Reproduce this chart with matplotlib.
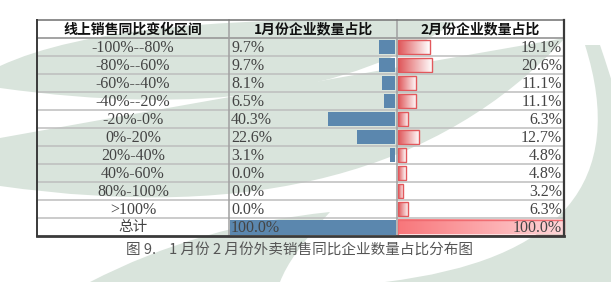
import numpy as np
import matplotlib.pyplot as plt
from matplotlib.path import Path
from matplotlib.patches import PathPatch, Rectangle
from matplotlib.colors import LinearSegmentedColormap

plt.rcParams['font.family'] = ['Noto Sans CJK SC', 'DejaVu Sans']

# ---- data ----
headers = ['线上销售同比变化区间', '1月份企业数量占比', '2月份企业数量占比']
ranges = ['-100%--80%', '-80%--60%', '-60%--40%', '-40%--20%', '-20%-0%',
          '0%-20%', '20%-40%', '40%-60%', '80%-100%', '>100%', '总计']
jan = [9.7, 9.7, 8.1, 6.5, 40.3, 22.6, 3.1, 0.0, 0.0, 0.0, 100.0]
feb = [19.1, 20.6, 11.1, 11.1, 6.3, 12.7, 4.8, 4.8, 3.2, 6.3, 100.0]
caption = '图 9.    1 月份 2 月份外卖销售同比企业数量占比分布图'

W, H = 611, 282
fig = plt.figure(figsize=(W / 100, H / 100), dpi=100)
ax = fig.add_axes([0, 0, 1, 1])
ax.set_xlim(0, W)
ax.set_ylim(H, 0)
ax.axis('off')

# ---- watermark swooshes in the background ----
wm = '#d9e4dc'
C3 = Path.CURVE3
shapes = [
    # upper left leaf
    [((0, 66), Path.MOVETO), ((120, 10), C3), ((455, 22), C3),
     ((300, 130), C3), ((0, 88), C3), ((0, 66), Path.CLOSEPOLY)],
    # middle leaf
    [((0, 138), Path.MOVETO), ((210, 100), C3), ((565, 38), C3),
     ((380, 240), C3), ((0, 186), C3), ((0, 138), Path.CLOSEPOLY)],
    # big right arc
    [((385, 282), Path.MOVETO), ((650, 250), C3), ((585, 45), C3),
     ((600, 45), Path.LINETO), ((680, 280), C3), ((611, 282), C3),
     ((385, 282), Path.CLOSEPOLY)],
    # bottom left band
    [((90, 282), Path.MOVETO), ((200, 225), C3), ((330, 212), C3),
     ((290, 255), C3), ((280, 282), C3), ((90, 282), Path.CLOSEPOLY)],
]
for s in shapes:
    verts, codes = zip(*s)
    ax.add_patch(PathPatch(Path(verts, codes), facecolor=wm, edgecolor='none', zorder=0))

# ---- table geometry ----
x0, x1, x2, x3 = 37, 229, 397, 564
top, head_h, row_h = 20, 18, 18
full = 166

def grad_bar(xa, xb, ya, yb, c_left, c_right, edge=None):
    cm = LinearSegmentedColormap.from_list('g', [c_left, c_right])
    g = np.linspace(0, 1, 64).reshape(1, -1)
    ax.imshow(g, extent=[xa, xb, yb, ya], aspect='auto', cmap=cm, zorder=2,
              interpolation='bilinear')
    if edge:
        ax.add_patch(Rectangle((xa, ya), xb - xa, yb - ya, fill=False,
                               edgecolor=edge, lw=1.0, zorder=3))

# header
hy = top + head_h / 2
for xc, txt in zip([(x0 + x1) / 2, (x1 + x2) / 2, (x2 + x3) / 2], headers):
    ax.text(xc, hy + 0.5, txt, ha='center', va='center', fontsize=10,
            fontweight='bold', color='#111111', zorder=5)

serif = ['Liberation Serif', 'DejaVu Serif']
for i, (lab, a, b) in enumerate(zip(ranges, jan, feb)):
    ya = top + head_h + i * row_h
    yc = ya + row_h / 2
    last = i == len(ranges) - 1
    # blue bar, right aligned
    if a > 0:
        w = a / 100 * full
        if last:
            ax.add_patch(Rectangle((x2 - 1 - w, ya + 1.5), w, row_h - 3,
                                   facecolor='#5b87ae', edgecolor='none', zorder=2))
        else:
            ax.add_patch(Rectangle((x2 - 2 - w, ya + 2), w, row_h - 4,
                                   facecolor='#5b87ae', edgecolor='none', zorder=2))
    # red gradient bar
    w = b / 100 * full
    if last:
        grad_bar(x2 + 1, x2 + 1 + w, ya + 1.5, ya + row_h - 1.5, '#f8777b', '#ffd6d8',
                 edge='#f06b70')
    else:
        grad_bar(x2 + 1, x2 + 1 + w, ya + 2, ya + row_h - 2, '#df5558', '#ffffff',
                 edge='#e2585c')
    if last:
        ax.text((x0 + x1) / 2, yc + 0.5, lab, ha='center', va='center',
                fontsize=10.5, color='#444444', zorder=5)
    else:
        ax.text((x0 + x1) / 2, yc + 0.5, lab, ha='center', va='center',
                fontsize=11.5, color='#444444', family=serif, zorder=5)
    ax.text(x1 + 2, yc + 0.5, f'{a:.1f}%', ha='left', va='center',
            fontsize=11.5, color='#444444', family=serif, zorder=5)
    ax.text(x3 - 2, yc + 0.5, f'{b:.1f}%', ha='right', va='center',
            fontsize=11.5, color='#444444', family=serif, zorder=5)
    # row separator
    ax.plot([x0, x3], [ya, ya], color='#bdbdbd', lw=1.1, zorder=4)

bottom = top + head_h + len(ranges) * row_h
ax.plot([x0, x3], [top + head_h, top + head_h], color='#9a9a9a', lw=1.1, zorder=4)
for xv in (x1, x2):
    ax.plot([xv, xv], [top, bottom], color='#a0a0a0', lw=1.1, zorder=4)
ax.plot([x0, x3], [top, top], color='#7a7a7a', lw=1.2, zorder=6)
ax.plot([x0, x0], [top, bottom], color='#3a3a3a', lw=1.4, zorder=6)
ax.plot([x3, x3], [top, bottom], color='#3a3a3a', lw=1.6, zorder=6)
ax.plot([x0, x3], [bottom, bottom], color='#3a3a3a', lw=2.0, zorder=6)

ax.text(299, 250, caption, ha='center', va='center', fontsize=10.5,
        color='#555555', zorder=5)

fig.savefig('out.png', dpi=100)
